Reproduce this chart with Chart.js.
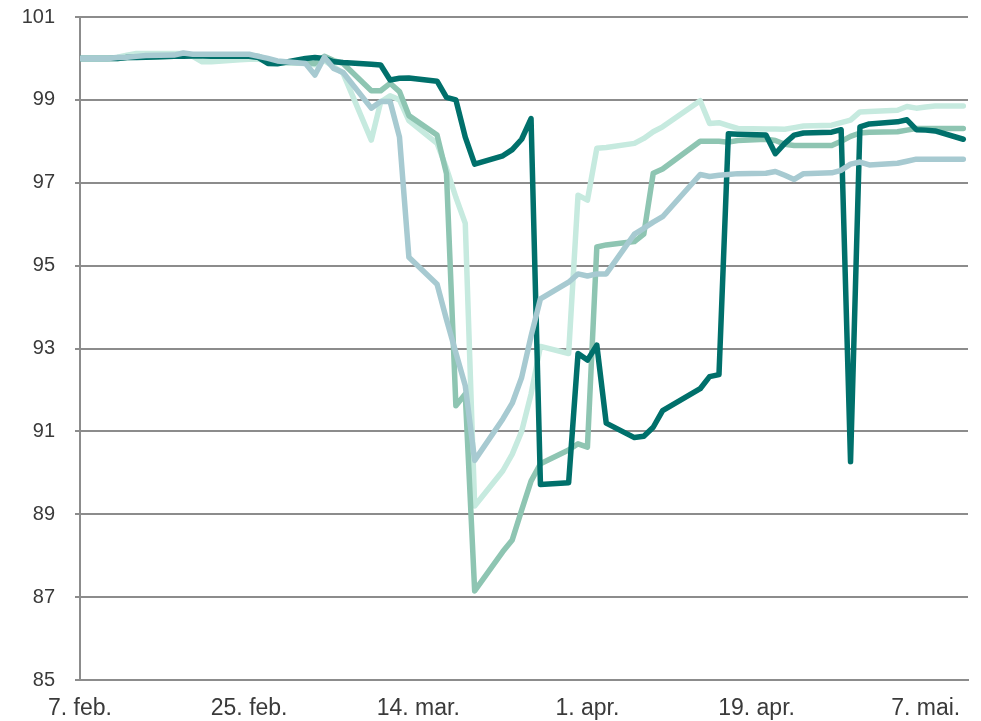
<!DOCTYPE html>
<html>
<head>
<meta charset="utf-8">
<script src="https://cdn.jsdelivr.net/npm/chart.js@4.4.1/dist/chart.umd.min.js"></script>
<style>
  html, body { margin: 0; padding: 0; background: #ffffff; }
  #wrap { width: 981px; height: 721px; }
</style>
</head>
<body>
<div id="wrap"><canvas id="chart" width="981" height="721"></canvas></div>
<script>
// Trading days, counted in calendar days from 7 Feb 2020
const days = [0, 3, 4, 5, 6, 7, 10, 11, 12, 13, 14, 17, 18, 19, 20, 21,
  24, 25, 26, 27, 28, 31, 32, 33, 34, 35, 38, 39, 40, 41, 42,
  45, 46, 47, 48, 49, 52, 53, 54, 55, 56, 59, 60, 61, 62,
  66, 67, 68, 69, 70, 73, 74, 75, 76, 77, 80, 81, 82, 83, 84,
  87, 88, 89, 90, 91, 94];

// Date labels every 18 days on the x axis
const tickLabels = ['7. feb.', '25. feb.', '14. mar.', '1. apr.', '19. apr.', '7. mai.'];
const tickStep = 18;

// Index values (7 Feb = 100)
const darkTeal = [100.0, 100.0, 100.0, 100.02, 100.02, 100.03, 100.05, 100.05, 100.06, 100.06, 100.05, 100.05, 100.05, 100.02, 99.88, 99.87,
  100.0, 100.02, 100.0, 99.92, 99.9, 99.86, 99.84, 99.48, 99.52, 99.53, 99.45, 99.06, 99.0, 98.1, 97.45,
  97.65, 97.8, 98.05, 98.55, 89.72, 89.76, 92.88, 92.72, 93.08, 91.2, 90.85, 90.88, 91.1, 91.5,
  92.03, 92.32, 92.37, 98.18, 98.17, 98.15, 97.7, 97.95, 98.15, 98.2, 98.22, 98.28, 90.27, 98.35, 98.42,
  98.47, 98.52, 98.28, 98.27, 98.25, 98.05];

const green = [100.0, 100.0, 100.0, 100.02, 100.03, 100.03, 100.05, 100.07, 100.08, 100.08, 100.08, 100.08, 100.08, 100.05, 99.95, 99.9,
  99.9, 99.88, 100.05, 99.95, 99.88, 99.22, 99.22, 99.4, 99.2, 98.62, 98.15, 97.22, 91.62, 91.9, 87.15,
  88.1, 88.38, 89.1, 89.8, 90.22, 90.55, 90.7, 90.62, 95.45, 95.5, 95.58, 95.76, 97.23, 97.33,
  98.0, 98.0, 98.0, 97.98, 98.02, 98.05, 98.02, 97.93, 97.9, 97.9, 97.9, 98.0, 98.12, 98.2, 98.22,
  98.23, 98.27, 98.31, 98.31, 98.31, 98.31];

const mint = [100.0, 100.0, 100.03, 100.08, 100.12, 100.12, 100.12, 100.12, 100.05, 99.92, 99.92, 99.97, 99.98, 99.98, 99.95, 99.9,
  99.88, 99.85, 99.95, 99.8, 99.64, 98.03, 98.95, 99.1, 99.0, 98.5, 97.95, 97.35, 96.65, 96.02, 89.2,
  90.05, 90.45, 91.0, 91.9, 93.05, 92.88, 96.7, 96.58, 97.83, 97.85, 97.95, 98.07, 98.23, 98.35,
  98.98, 98.43, 98.45, 98.38, 98.31, 98.3, 98.3, 98.29, 98.33, 98.37, 98.39, 98.45, 98.51, 98.71, 98.72,
  98.75, 98.84, 98.8, 98.83, 98.85, 98.85];

const lightBlue = [100.0, 100.0, 100.02, 100.03, 100.05, 100.07, 100.08, 100.13, 100.1, 100.1, 100.1, 100.1, 100.1, 100.05, 100.0, 99.94,
  99.88, 99.6, 100.03, 99.76, 99.66, 98.8, 98.96, 98.96, 98.1, 95.2, 94.55, 93.7, 92.9, 92.1, 90.3,
  91.3, 91.68, 92.3, 93.3, 94.2, 94.6, 94.8, 94.75, 94.8, 94.8, 95.76, 95.9, 96.05, 96.18,
  97.2, 97.15, 97.18, 97.2, 97.22, 97.23, 97.27, 97.18, 97.08, 97.22, 97.24, 97.3, 97.45, 97.5, 97.43,
  97.47, 97.52, 97.57, 97.57, 97.57, 97.57];

const toPoints = values => days.map((d, i) => ({ x: d, y: values[i] }));

const gridColor = '#8c8c8c';
const textColor = '#3a3a3a';
const family = "'Liberation Sans', Arial, sans-serif";

const line = (values, color, order) => ({
  data: toPoints(values),
  borderColor: color,
  backgroundColor: color,
  borderWidth: 5.5,
  borderJoinStyle: 'round',
  borderCapStyle: 'round',
  pointRadius: 0,
  tension: 0,
  fill: false,
  order: order
});

new Chart(document.getElementById('chart'), {
  type: 'line',
  data: {
    datasets: [
      line(lightBlue, '#a7cad1', 0),
      line(darkTeal, '#00706b', 1),
      line(green, '#8ec5b2', 2),
      line(mint, '#c6eadf', 3)
    ]
  },
  options: {
    responsive: false,
    animation: false,
    devicePixelRatio: 1,
    layout: { padding: { top: 17, right: 13, bottom: 0, left: 0 } },
    plugins: { legend: { display: false }, tooltip: { enabled: false } },
    scales: {
      x: {
        type: 'linear',
        min: 0,
        max: 94.5,
        grid: { display: false, drawTicks: false },
        border: { display: true, color: gridColor, width: 2 },
        ticks: {
          stepSize: tickStep,
          includeBounds: false,
          autoSkip: false,
          maxRotation: 0,
          padding: 15,
          color: textColor,
          font: { family: family, size: 23 },
          callback: v => tickLabels[Math.round(v / tickStep)]
        },
        afterFit: s => { s.height = 41; s.paddingLeft = 0; s.paddingRight = 0; }
      },
      y: {
        min: 85,
        max: 101,
        grid: { color: gridColor, lineWidth: 2, tickLength: 5 },
        border: { display: true, color: gridColor, width: 2 },
        ticks: { stepSize: 2, padding: 20, color: textColor, font: { family: family, size: 20 } },
        afterFit: s => { s.width = 80; s.paddingTop = 0; s.paddingBottom = 0; }
      }
    }
  }
});
</script>
</body>
</html>
